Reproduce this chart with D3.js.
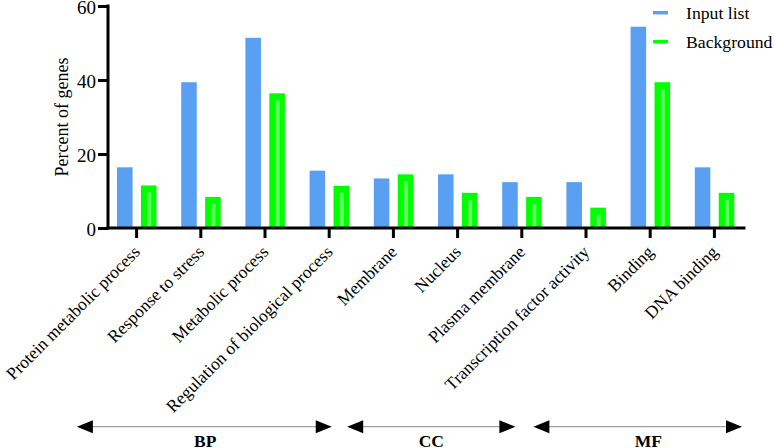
<!DOCTYPE html>
<html>
<head>
<meta charset="utf-8">
<script src="https://cdn.jsdelivr.net/npm/d3@7"></script>
<style>
  html, body { margin: 0; padding: 0; background: #fff; }
  svg { display: block; font-family: "Liberation Serif", "Times New Roman", serif; }
</style>
</head>
<body>
<svg id="chart" width="775" height="448"></svg>
<script>
const categories = [
  "Protein metabolic process", "Response to stress", "Metabolic process",
  "Regulation of biological process", "Membrane", "Nucleus", "Plasma membrane",
  "Transcription factor activity", "Binding", "DNA binding"
];
const seriesNames = ["Input list", "Background"];
const inputList  = [16.4, 39.4, 51.4, 15.5, 13.4, 14.5, 12.4, 12.4, 54.4, 16.4];
const background = [11.5, 8.4, 36.4, 11.4, 14.5, 9.5, 8.4, 5.5, 39.4, 9.5];
const yTicks = [0, 20, 40, 60];
const groupNames = ["BP", "CC", "MF"];
const groupSpans = [[-0.93, 3.04], [3.28, 5.9], [6.18, 9.43]];
const groupLabelPos = [1.07, 4.59, 7.97];
const colors = ["#5aa0f2", "#00ff00"];

const svg = d3.select("#chart");
const font = "Liberation Serif, Times New Roman, serif";

const x = d3.scaleBand().domain(categories).range([104.5, 746.5]);
const xs = d3.scaleBand().domain(seriesNames).range([12.5, 52]).paddingInner(0.35);
const y = d3.scaleLinear().domain([0, 60]).range([228, 6]);
const xi = d3.scaleLinear().domain([0, 9])
  .range([x(categories[0]) + x.bandwidth() / 2, x(categories[9]) + x.bandwidth() / 2]);

// bars
const rows = categories.map((c, i) => ({ cat: c, vals: [inputList[i], background[i]] }));
const g = svg.append("g");
rows.forEach(r => {
  r.vals.forEach((v, k) => {
    const bx = x(r.cat) + xs(seriesNames[k]);
    g.append("rect")
      .attr("x", bx).attr("y", y(v))
      .attr("width", xs.bandwidth()).attr("height", y(0) - y(v))
      .attr("fill", colors[k]);
    if (k === 1) {
      g.append("rect")
        .attr("x", bx + xs.bandwidth() / 2 - 1.5).attr("y", y(v) + 7)
        .attr("width", 4).attr("height", Math.max(0, y(0) - y(v) - 7))
        .attr("fill", "#5cff5c");
    }
  });
});

// y axis
const yAxis = svg.append("g")
  .attr("transform", "translate(108,0)")
  .call(d3.axisLeft(y).tickValues(yTicks).tickSize(10).tickSizeOuter(0).tickPadding(2));
yAxis.select(".domain").attr("stroke", "#000").attr("stroke-width", 3)
  .attr("d", `M0,${y(60) - 1.5}V${y(0) + 1.5}`);
yAxis.selectAll(".tick line").attr("stroke", "#000").attr("stroke-width", 3);
yAxis.selectAll(".tick text").attr("font-family", font).attr("font-size", 19).attr("fill", "#000")
  .attr("dy", "0.38em");

// x axis
const xAxis = svg.append("g")
  .attr("transform", `translate(0,${y(0)})`)
  .call(d3.axisBottom(x).tickSize(10).tickSizeOuter(0).tickFormat(""));
xAxis.select(".domain").attr("stroke", "#000").attr("stroke-width", 3)
  .attr("d", "M106.5,0H745.5");
xAxis.selectAll(".tick line").attr("stroke", "#000").attr("stroke-width", 3);

// rotated category labels
svg.append("g").selectAll("text").data(categories).join("text")
  .attr("transform", d => `translate(${x(d) + x.bandwidth() / 2 + 4.5},${y(0) + 25}) rotate(-45)`)
  .attr("text-anchor", "end")
  .attr("font-family", font).attr("font-size", 17.5).attr("fill", "#000")
  .text(d => d);

// y title
svg.append("text")
  .attr("transform", `translate(68,${(y(0) + y(60)) / 2}) rotate(-90)`)
  .attr("text-anchor", "middle")
  .attr("font-family", font).attr("font-size", 18).attr("fill", "#000")
  .text("Percent of genes");

// legend
const leg = svg.append("g");
seriesNames.forEach((s, k) => {
  const ly = 12.7 + k * 29;
  leg.append("line").attr("x1", 653).attr("x2", 668).attr("y1", ly).attr("y2", ly)
    .attr("stroke", colors[k]).attr("stroke-width", 3.5);
  leg.append("text").attr("x", 686).attr("y", ly + 6)
    .attr("font-family", font).attr("font-size", 17.7).attr("fill", "#000").text(s);
});

// group arrows
const ay = 426.7;
const ga = svg.append("g");
groupNames.forEach((name, i) => {
  const x0 = xi(groupSpans[i][0]), x1 = xi(groupSpans[i][1]);
  ga.append("line").attr("x1", x0 + 10).attr("x2", x1 - 10).attr("y1", ay).attr("y2", ay)
    .attr("stroke", "#888").attr("stroke-width", 1);
  ga.append("path").attr("d", `M${x0},${ay}L${x0 + 16},${ay - 6.5}L${x0 + 16},${ay + 6.5}Z`).attr("fill", "#000");
  ga.append("path").attr("d", `M${x1},${ay}L${x1 - 16},${ay - 6.5}L${x1 - 16},${ay + 6.5}Z`).attr("fill", "#000");
  ga.append("text").attr("x", xi(groupLabelPos[i])).attr("y", 446.5)
    .attr("text-anchor", "middle").attr("font-family", font).attr("font-weight", "bold")
    .attr("font-size", 17.5).attr("fill", "#000").text(name);
});
</script>
</body>
</html>
